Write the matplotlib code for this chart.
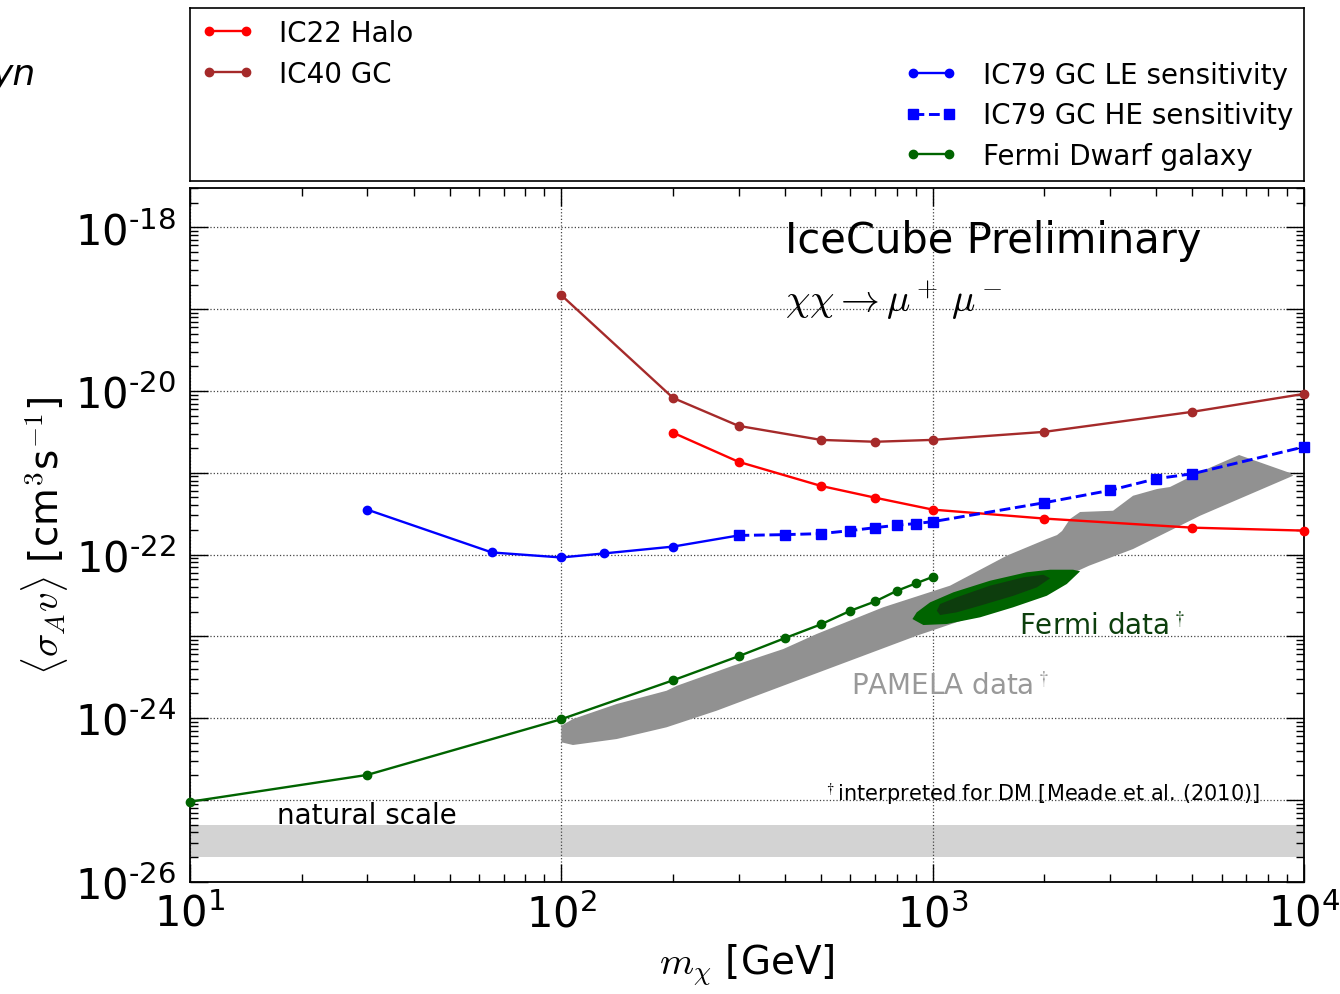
import matplotlib
matplotlib.use("Agg")
import matplotlib.pyplot as plt
import numpy as np
from matplotlib.ticker import FuncFormatter, LogLocator, NullFormatter

plt.rcParams['font.family'] = ['DejaVu Sans']
plt.rcParams['mathtext.fontset'] = 'cm'

# ---------------- data ----------------
ic22_m = [200, 300, 500, 700, 1000, 2000, 5000, 10000]
ic22_sv = [3.08e-21, 1.36e-21, 6.9e-22, 4.95e-22, 3.54e-22, 2.75e-22, 2.13e-22, 1.96e-22]

ic40_m = [100, 200, 300, 500, 700, 1000, 2000, 5000, 10000]
ic40_sv = [1.48e-19, 8.2e-21, 3.74e-21, 2.52e-21, 2.39e-21, 2.52e-21, 3.16e-21, 5.55e-21, 9.2e-21]

ic79le_m = [30, 65, 100, 130, 200, 300]
ic79le_sv = [3.54e-22, 1.06e-22, 9.2e-23, 1.03e-22, 1.25e-22, 1.71e-22]

ic79he_m = [300, 400, 500, 600, 700, 800, 900, 1000, 2000, 3000, 4000, 5000, 10000]
ic79he_sv = [1.71e-22, 1.75e-22, 1.80e-22, 1.96e-22, 2.13e-22, 2.28e-22, 2.39e-22, 2.52e-22,
             4.3e-22, 6.08e-22, 8.45e-22, 9.7e-22, 2.07e-21]

fermi_m = [10, 30, 100, 200, 300, 400, 500, 600, 700, 800, 900, 1000]
fermi_sv = [9.5e-26, 2.02e-25, 9.7e-25, 2.9e-24, 5.7e-24, 9.5e-24, 1.4e-23, 2.05e-23,
            2.67e-23, 3.59e-23, 4.43e-23, 5.32e-23]

# PAMELA region outline (upper edge left->right, then lower edge right->left)
pamela_m = [100, 107.5, 141, 192, 205, 290, 396, 487, 735, 1114, 1583, 2029, 2163, 2231, 2344,
            2495, 3061, 3465, 4020, 4357, 5250, 6687, 9175,
            9349, 5250, 3465, 2638, 1427, 906, 599, 396, 262, 192, 141, 107.5, 100]
pamela_sv = [8.07e-25, 9.75e-25, 1.487e-24, 2.16e-24, 2.49e-24, 4.37e-24, 6.99e-24, 1.067e-23,
             2.26e-23, 4.16e-23, 9.67e-23, 1.547e-22, 1.73e-22, 1.94e-22, 2.72e-22, 3.31e-22,
             3.43e-22, 5.23e-22, 6.32e-22, 6.69e-22, 1.02e-21, 1.646e-21, 9.92e-22,
             9.19e-22, 2.98e-22, 1.167e-22, 7.30e-23, 2.04e-23, 1.017e-23, 5.03e-24, 2.49e-24,
             1.232e-24, 7.72e-25, 5.55e-25, 4.69e-25, 5.06e-25]

# Fermi data contours
fermi_out_m = [882, 944, 1091, 1342, 1646, 2029, 2297, 2495, 2389, 2071, 1792, 1427, 1137, 984, 906]
fermi_out_sv = [1.627e-23, 1.374e-23, 1.413e-23, 1.707e-23, 2.26e-23, 3.13e-23, 4.36e-23, 6.23e-23,
                6.52e-23, 6.52e-23, 6.06e-23, 4.78e-23, 3.45e-23, 2.60e-23, 1.965e-23]
fermi_in_m = [1026, 1047, 1161, 1427, 1755, 1987, 2071, 1908, 1649, 1342, 1161, 1047]
fermi_in_sv = [2.056e-23, 2.48e-23, 3.0e-23, 4.16e-23, 5.26e-23, 5.66e-23, 5.12e-23, 3.97e-23,
               3.13e-23, 2.37e-23, 1.965e-23, 1.82e-23]

natural_lo, natural_hi = 2e-26, 5e-26

# ---------------- figure ----------------
fig = plt.figure(figsize=(13.4, 9.95), dpi=100)
ax = fig.add_axes([190/1340, 1 - 882.7/995, (1304-190)/1340, (882.7-189.3)/995])
lax = fig.add_axes([190/1340, 1 - 182/995, (1304-190)/1340, (182-9)/995])

ax.set_xscale('log')
ax.set_yscale('log')
ax.set_xlim(10, 1e4)
ax.set_ylim(1e-26, 3e-18)

ax.axhspan(natural_lo, natural_hi, color='#d3d3d3', lw=0, zorder=1)
ax.fill(pamela_m, pamela_sv, color='#919191', lw=0, zorder=2)
ax.fill(fermi_out_m, fermi_out_sv, color='#006400', lw=0, zorder=3)
ax.fill(fermi_in_m, fermi_in_sv, color='#0d3d0d', lw=0, zorder=4)

lw = 1.7
ms = 6
l1, = ax.plot(ic22_m, ic22_sv, '-o', color='#ff0000', lw=lw, ms=ms, mec='#ff0000', label='IC22 Halo', zorder=6)
l2, = ax.plot(ic40_m, ic40_sv, '-o', color='#a52a2a', lw=lw, ms=ms, mec='#a52a2a', label='IC40 GC', zorder=6)
l3, = ax.plot(ic79le_m, ic79le_sv, '-o', color='#0000ff', lw=lw, ms=ms, mec='#0000ff', label='IC79 GC LE sensitivity', zorder=6)
l4, = ax.plot(ic79he_m, ic79he_sv, '--s', color='#0000ff', lw=lw+0.4, ms=6.5, mec='#0000ff', label='IC79 GC HE sensitivity', zorder=6)
l5, = ax.plot(fermi_m, fermi_sv, '-o', color='#006400', lw=lw, ms=ms, mec='#006400', label='Fermi Dwarf galaxy', zorder=6)
for l in (l1, l2, l3, l4, l5):
    l.set_clip_on(False)

# ticks
ax.yaxis.set_major_locator(LogLocator(base=10, numticks=20))
ax.yaxis.set_minor_locator(LogLocator(base=10, subs=np.arange(2, 10), numticks=20))
ax.xaxis.set_major_locator(LogLocator(base=10, numticks=20))
ax.xaxis.set_minor_locator(LogLocator(base=10, subs=np.arange(2, 10), numticks=20))

HY = '\u2010'

def yfmt(v, pos):
    e = int(round(np.log10(v)))
    if e % 2 != 0:
        return ''
    return r'$\mathregular{10^{' + HY + '%d}}$' % abs(e)

def xfmt(v, pos):
    e = int(round(np.log10(v)))
    return r'$\mathregular{10^{%d}}$' % e

ax.yaxis.set_major_formatter(FuncFormatter(yfmt))
ax.xaxis.set_major_formatter(FuncFormatter(xfmt))
ax.xaxis.set_minor_formatter(NullFormatter())
ax.yaxis.set_minor_formatter(NullFormatter())

ax.tick_params(which='both', direction='in', top=True, right=True, width=1.0, color='black')
ax.tick_params(which='major', length=13, labelsize=30)
ax.tick_params(which='minor', length=6)
ax.tick_params(axis='y', which='major', pad=10)
ax.tick_params(axis='x', which='major', pad=8)
for s in ax.spines.values():
    s.set_linewidth(1.3)

ax.grid(True, which='major', linestyle=':', color='#444444', lw=0.9)

ax.set_xlabel(r'$m_\chi$ [GeV]', fontsize=28, labelpad=4)
ax.set_ylabel(r'$\langle\sigma_A v\rangle$ [cm$^3$s$^{-1}$]', fontsize=28)
ax.yaxis.set_label_coords(-0.108, 0.5)

# texts
ax.text(0.534, 0.925, 'IceCube Preliminary', transform=ax.transAxes, fontsize=30, ha='left', va='center')
ax.text(0.534, 0.84, r'$\chi\chi\rightarrow\mu^+\,\mu^-$', transform=ax.transAxes, fontsize=28, ha='left', va='center')
ax.text(1703, 1.35e-23, r'Fermi data$^\dagger$', color='#0d3f0d', fontsize=20, ha='left', va='center', zorder=7)
ax.text(604, 2.5e-24, r'PAMELA data$^\dagger$', color='#999999', fontsize=20, ha='left', va='center', zorder=7)
ax.text(17.2, 6.6e-26, 'natural scale', color='black', fontsize=20, ha='left', va='center', zorder=7)
ax.text(7600, 1.2e-25, r'$^\dagger$interpreted for DM [Meade et al. (2010)]', color='black', fontsize=15,
        ha='right', va='center', zorder=7)

# legend panel
lax.set_xticks([])
lax.set_yticks([])
for s in lax.spines.values():
    s.set_linewidth(1.2)
leg1 = lax.legend(handles=[l1, l2], loc='upper left', frameon=False, fontsize=20, numpoints=2,
                  handlelength=1.9, borderaxespad=0.0, labelspacing=0.45, handletextpad=0.9)
lax.add_artist(leg1)
leg2 = lax.legend(handles=[l3, l4, l5], loc='lower right', frameon=False, fontsize=20, numpoints=2,
                  handlelength=1.9, borderaxespad=0.0, labelspacing=0.45, handletextpad=0.9)

fig.text(-0.006, 0.925, 'yn', fontsize=26, style='italic', ha='left', va='center')

fig.savefig('out.png', dpi=100)
